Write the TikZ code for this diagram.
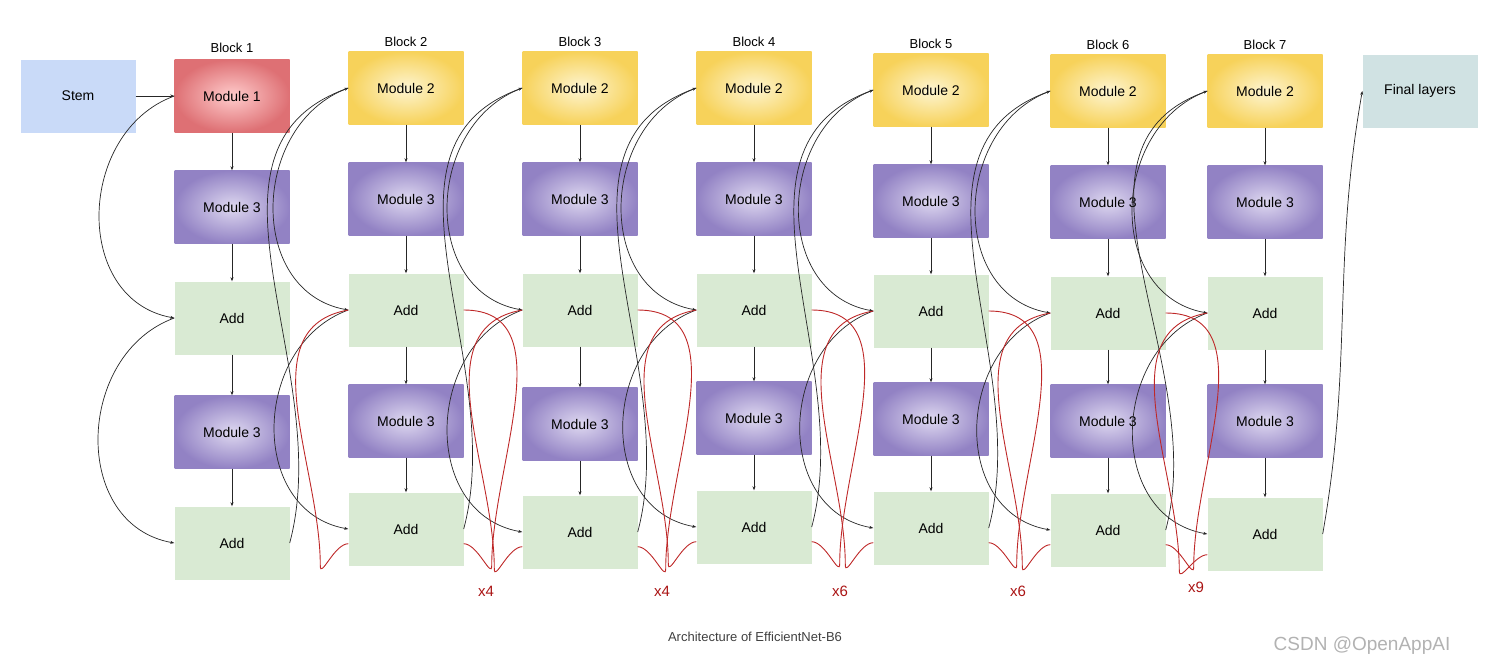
\documentclass[tikz,border=0pt]{standalone}
\usepackage{fontspec}
\setmainfont{Liberation Sans}
\usetikzlibrary{arrows.meta}
\begin{document}
\begin{tikzpicture}[x=1pt,y=-1pt,
  box/.style={minimum width=115pt,minimum height=73pt,inner sep=0pt,font=\fontsize{14}{16}\selectfont},
  mone/.style={box,inner color=red!20!white,outer color={rgb,255:red,222;green,112;blue,116}},
  mtwo/.style={box,inner color={rgb,255:red,253;green,245;blue,210},outer color={rgb,255:red,247;green,210;blue,90}},
  mthree/.style={box,inner color={rgb,255:red,222;green,216;blue,240},outer color={rgb,255:red,146;green,130;blue,196}},
  addb/.style={box,fill={rgb,255:red,217;green,234;blue,211}},
  arr/.style={draw=black!85,line width=0.7pt,-{Stealth[length=4pt,width=3pt]}},
  rep/.style={draw={rgb,255:red,190;green,40;blue,40},line width=0.9pt},
  replab/.style={text={rgb,255:red,170;green,20;blue,20},font=\fontsize{15}{17}\selectfont}]
\useasboundingbox (0,0) rectangle (1497,672);
\node[box,fill={rgb,255:red,201;green,218;blue,248}] (stem) at (78,96) {Stem};
\node[box,fill={rgb,255:red,208;green,226;blue,227}] (final) at (1420,91) {Final layers};
\foreach \k/\x/\ya/\yb/\yc/\yd/\ye/\yl in {1/232/96/207/318/432/543/48,2/406/88/199/310/421/529/42,3/580/88/199/310/424/532/42,4/754/88/199/310/418/527/42,5/931/90/201/311/419/528/44,6/1108/91/202/313/421/530/45,7/1265/91/202/313/421/534/45}{
  \ifnum\k=1
    \node[mone] (b\k m1) at (\x,\ya) {Module 1};
  \else
    \node[mtwo] (b\k m1) at (\x,\ya) {Module 2};
  \fi
  \node[mthree] (b\k m2) at (\x,\yb) {Module 3};
  \node[addb] (b\k a1) at (\x,\yc) {Add};
  \node[mthree] (b\k m3) at (\x,\yd) {Module 3};
  \node[addb] (b\k a2) at (\x,\ye) {Add};
  \node[font=\fontsize{13}{15}\selectfont] (lab\k) at (\x,\yl) {Block \k};
  \draw[arr] (b\k m1) -- (b\k m2);
  \draw[arr] (b\k m2) -- (b\k a1);
  \draw[arr] (b\k a1) -- (b\k m3);
  \draw[arr] (b\k m3) -- (b\k a2);
  \draw[arr] (b\k m1.west) to[out=200,in=170,looseness=1.2] (b\k a1.west);
  \draw[arr] (b\k a1.west) to[out=200,in=170,looseness=1.2] (b\k a2.west);
}
\draw[arr] (stem) -- (b1m1);
\foreach \p/\n in {1/2,2/3,3/4,4/5,5/6,6/7}{
  \draw[arr] (b\p a2.east) to[out=75,in=200] (b\n m1.west);
}
\draw[arr] (b7a2.east) to[out=80,in=260] (final.west);
% repeat brackets
\foreach \k/\m in {2/x4,3/x4,4/x6,5/x6,6/x9}{
  \draw[rep] (b\k a1.west) to[out=190,in=90] ([xshift=-28pt]b\k a1.west |- b\k a2.south) coordinate (lb\k)
    to[out=-90,in=180] ([yshift=22pt]b\k a2.south west);
  \draw[rep] (b\k a1.east) to[out=0,in=90] ([xshift=28pt]b\k a1.east |- b\k a2.south)
    to[out=-90,in=0] ([yshift=22pt]b\k a2.south east);
}
\draw[rep] (b7a1.west) to[out=190,in=90] ([xshift=-28pt]b7a1.west |- b7a2.south)
    to[out=-90,in=180] ([yshift=16pt]b7a2.south west);
\node[replab] (r2) at (486,591) {x4};
\node[replab] (r3) at (662,591) {x4};
\node[replab] (r4) at (840,591) {x6};
\node[replab] (r5) at (1018,591) {x6};
\node[replab] (r6) at (1196,587) {x9};
\node[text=black!75,font=\fontsize{13}{15}\selectfont] (cap) at (755,637) {Architecture of EfficientNet-B6};
\node[text=black!30,font=\fontsize{19}{21}\selectfont] (wm) at (1362,646) {CSDN @OpenAppAI};
\end{tikzpicture}
\end{document}
